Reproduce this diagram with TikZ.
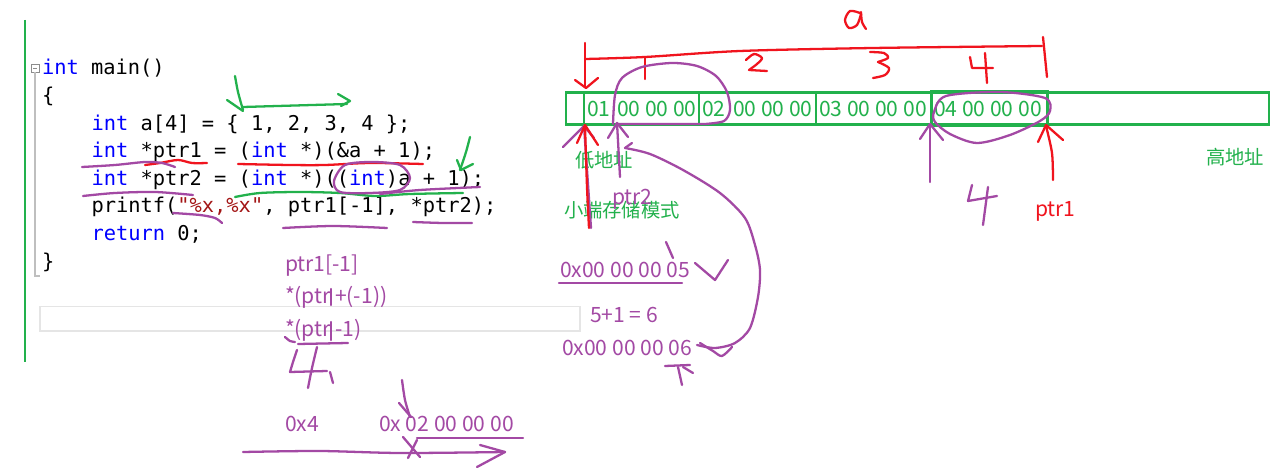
\documentclass[tikz,border=0pt]{standalone}
\usepackage{fontspec}
\setmonofont{DejaVu Sans Mono}
\newfontfamily\uifont{Noto Sans CJK SC}
\definecolor{kwblue}{RGB}{0,0,255}
\definecolor{strred}{RGB}{163,21,21}
\definecolor{penpurple}{RGB}{163,73,164}
\definecolor{pengreen}{RGB}{34,177,76}
\definecolor{penred}{RGB}{240,20,30}

\begin{document}
\begin{tikzpicture}[x=0.02cm, y=-0.02cm,
  every node/.style={inner sep=0pt, outer sep=0pt, anchor=base west},
  code/.style={font=\ttfamily\fontsize{11.6}{14}\selectfont},
  memtext/.style={font=\uifont\fontsize{12}{14}\selectfont, text=pengreen},
  cjktext/.style={font=\uifont\fontsize{11}{13}\selectfont, text=pengreen},
  note/.style={font=\uifont\fontsize{12}{14}\selectfont, text=penpurple},
  pen/.style={line width=1.3pt, line cap=round, line join=round},
  pp/.style={pen, draw=penpurple},
  pr/.style={pen, draw=penred},
  pg/.style={pen, draw=pengreen}]
\fill[white] (0,0) rectangle (1270,469);
\useasboundingbox (0,0) rectangle (1270,469);

% editor
\draw[pengreen, line width=1.7pt] (25,20) -- (25,362);
\draw[black!45, line width=0.5pt] (31,64.5) rectangle (39,72.5);
\draw[black!45, line width=0.5pt] (33,68.5) -- (37,68.5);
\draw[black!25, line width=0.8pt] (35,72.5) -- (35,276) -- (40,276);
\draw[black!10, line width=1pt] (40,306.5) rectangle (580,331);

\node[code] (l1) at (42,75) {\textcolor{kwblue}{int} main()};
\node[code] (l2) at (42,102.6) {\{};
\node[code] (l3) at (91.5,130.2) {\textcolor{kwblue}{int} a[4] = \{ 1, 2, 3, 4 \};};
\node[code] (l4) at (91.5,157.8) {\textcolor{kwblue}{int} *ptr1 = (\textcolor{kwblue}{int} *)(\&a + 1);};
\node[code] (l5) at (91.5,185.4) {\textcolor{kwblue}{int} *ptr2 = (\textcolor{kwblue}{int} *)((\textcolor{kwblue}{int})a + 1);};
\node[code] (l6) at (91.5,213) {printf(\textcolor{strred}{"\%x,\%x"}, ptr1[-1], *ptr2);};
\node[code] (l7) at (91.5,240.6) {\textcolor{kwblue}{return} 0;};
\node[code] (l8) at (42,268.2) {\}};

% marks on the code
\draw[pg] (243,107) -- (347,104);
\draw[pg] (338,94) -- (350,101) -- (341,106);
\draw[pg] plot[smooth] coordinates {(235,76) (238,92) (243,110)};
\draw[pg] (227,100) -- (243,111);
\draw[pr] plot[smooth] coordinates {(145,165) (160,163) (178,160) (192,163) (207,163)};
\draw[pr] plot[smooth] coordinates {(238,164) (290,165) (325,165) (370,163) (423,164)};
\draw[pp] plot[smooth] coordinates {(82,167) (115,165) (145,162) (162,163) (175,167)};
\draw[pp] plot[smooth] coordinates {(83,196) (115,193) (155,192) (193,195)};
\draw[pg] plot[smooth] coordinates {(235,197) (260,193) (300,192) (340,193) (375,196) (410,194) (463,193)};
\draw[pp] plot[smooth cycle] coordinates {(334,181) (345,165) (372,162) (400,165) (410,178) (400,190) (370,193) (340,192)};
\draw[pp] plot[smooth] coordinates {(380,194) (420,190) (480,187)};
\draw[pg] plot[smooth] coordinates {(470,137) (466,152) (460,170)};
\draw[pg] (457,160) -- (461,170) -- (473,164);
\draw[pp] plot[smooth] coordinates {(173,213) (200,215) (215,218) (222,223)};
\draw[pp] plot[smooth] coordinates {(283,228) (333,226) (387,228)};
\draw[pp] plot[smooth] coordinates {(413,222) (443,223) (472,223)};

% ptr1[-1]
\node[note] (n1) at (285,272) {ptr1[-1]};
\node[note] (n2) at (285,303) {*(ptr\kern2.5pt+(-1))};
\node[note] (n3) at (285,337) {*(ptr\kern2.5pt-1)};
\draw[pp] (331,289) -- (331,305);
\draw[pp] (331,322) -- (331,340);
\draw[pp] plot[smooth] coordinates {(285,337) (290,341) (295,342)};
\draw[pp] (298,344) -- (348,343);
\draw[pp] plot[smooth] coordinates {(297,350) (293,362) (290,372)} -- (327,371);
\draw[pp] plot[smooth] coordinates {(317,347) (312,368) (308,388)};
\draw[pp] (330,372) -- (333,383);

\node[note] (h4) at (285,431) {0x4};
\node[note] (h2) at (379,431) {0x 02 00 00 00};
\draw[pp] plot[smooth] coordinates {(402,380) (405,400) (410,417)};
\draw[pp] (399,403) -- (411,417);
\draw[pp] (417,438) -- (523,438);
\draw[pp] plot[smooth] coordinates {(243,452) (320,451) (400,453) (505,452)};
\draw[pp] (480,445) -- (505,452) -- (477,467);
\draw[pp] (403,437) -- (420,457);
\draw[pp] (417,440) -- (408,458);

% memory
\draw[pengreen, line width=1.5pt] (566,92.5) rectangle (1269,124.5);
\draw[pengreen, line width=1.5pt] (584,92.5) -- (584,124.5);
\draw[pengreen, line width=1.5pt] (699,92.5) -- (699,124.5);
\draw[pengreen, line width=1.5pt] (816,92.5) -- (816,124.5);
\draw[pengreen, line width=1.7pt] (931,91) rectangle (1047,126);

\node[memtext] (b01) at (587,117) {01};
\node[memtext] (b1) at (617,117) {00 00 00};
\node[memtext] (b02) at (702,117) {02};
\node[memtext] (b2) at (733,117) {00 00 00};
\node[memtext] (b3) at (819,117) {03 00 00 00};
\node[memtext] (b4) at (934,117) {04 00 00 00};
\node[cjktext] (low) at (575,168) {低地址};
\node[cjktext] (mode) at (564,218) {小端存储模式};
\node[cjktext] (high) at (1206,165) {高地址};
\node[note] (p2) at (612,205) {ptr2};
\node[note, text=penred] (p1) at (1035,217) {ptr1};

% bracket a
\draw[pr] plot[smooth] coordinates {(585,59) (645,57) (740,51) (873,48) (1042,46)};
\draw[pr] (585,43) -- (585,87);
\draw[pr] (575,80) -- (586,88) -- (598,78);
\draw[pr] plot[smooth] coordinates {(1043,37) (1045,57) (1047,77)};
\draw[pr] (645,57) -- (645,79);
\draw[pr] plot[smooth] coordinates {(746,60) (754,54) (762,58) (757,64) (749,70)} -- (767,71);
\draw[pr] plot[smooth] coordinates {(870,52) (884,53) (888,58) (878,62)};
\draw[pr] plot[smooth] coordinates {(878,62) (889,68) (885,75) (873,78)};
\draw[pr] (970,57) -- (972,68) -- (993,68);
\draw[pr] (985,53) -- (987,83);
\draw[pr] plot[smooth] coordinates {(860,13) (850,11) (845,20) (849,28) (857,25) (861,14)};
\draw[pr] plot[smooth] coordinates {(861,12) (862,22) (866,29)};

\draw[pp] plot[smooth] coordinates {(613,124) (615,95) (622,78) (642,67) (672,63) (697,66) (716,76) (727,92) (730,110) (724,121) (705,124)} -- (617,124);
\draw[pp] plot[smooth cycle] coordinates {(934,112) (946,96) (1000,92) (1045,98) (1050,111) (1040,121) (1010,135) (977,143) (950,134) (935,122)};

\draw[pp] (930,182) -- (930,124);
\draw[pp] (920,139) -- (930,124) -- (943,140);
\draw[pr] plot[smooth] coordinates {(1053,180) (1052,153) (1046,126)};
\draw[pr] (1038,142) -- (1046,125) -- (1063,140);
\draw[pp] (584,126) -- (591,228);
\draw[pp] (563,147) -- (584,126) -- (594,138);
\draw[pr] plot[smooth] coordinates {(589,228) (587,187) (585,126)};
\draw[pr] (577,143) -- (585,125) -- (598,145);
\draw[pp] (620,177) -- (617,123);
\draw[pp] (608,138) -- (617,123) -- (628,137);
\draw[pp] (632,143) -- (625,148);
\draw[pp] plot[smooth] coordinates {(625,148) (650,154) (683,170) (720,193) (745,218) (755,245) (760,270) (758,297) (750,328) (735,343) (715,348) (697,345)};
\draw[pp] plot[smooth] coordinates {(700,343) (713,351) (722,356) (732,347)};
\draw[pp] (972,185) -- (968,201) -- (997,196);
\draw[pp] (988,187) -- (983,225);

% values
\node[note] (v5) at (560,277) {0x00 00 00 05};
\node[note] (sum) at (590,322) {5+1 = 6};
\node[note] (v6) at (562,356) {0x00 00 00 06};
\draw[pp] (666,242) -- (673,258);
\draw[pp] (695,263) -- (715,280) -- (728,260);
\draw[pp] (559,283) -- (682,283);
\draw[pp] (682,385) -- (678,367);
\draw[pp] (665,366) -- (690,365);
\draw[pp] (693,373) -- (683,367);
\end{tikzpicture}
\end{document}
